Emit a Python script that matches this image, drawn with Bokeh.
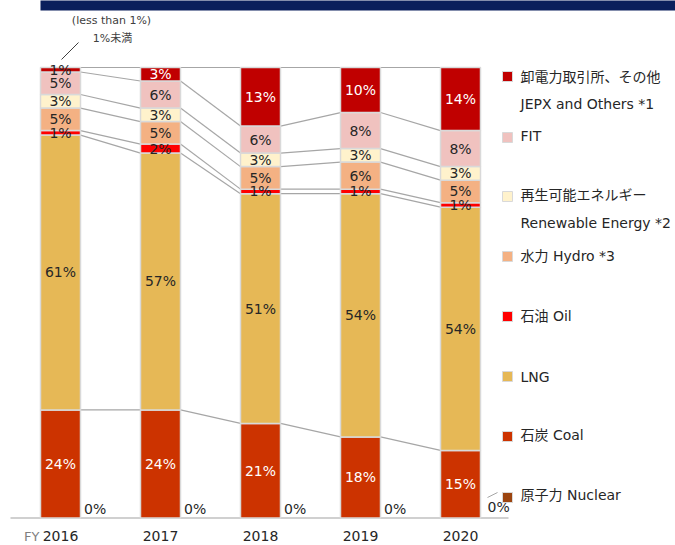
from bokeh.plotting import figure
from bokeh.embed import file_html
from bokeh.resources import INLINE
from bokeh.core.properties import value

# ---- data ----
years = ["2016", "2017", "2018", "2019", "2020"]
nuclear = [0, 0, 0, 0, 0]
coal = [24, 24, 21, 18, 15]
lng = [61, 57, 51, 54, 54]
oil = [1, 2, 1, 1, 1]
hydro = [5, 5, 5, 6, 5]
renew = [3, 3, 3, 3, 3]
fit = [5, 6, 6, 8, 8]
jepx = [1, 3, 13, 10, 14]

series = [coal, lng, oil, hydro, renew, fit, jepx]
colors = ["#CC3300", "#E6B856", "#FF0000", "#F4B183", "#FFF2CC", "#F0C2BF", "#C00000"]
white_label = [True, False, False, False, False, False, True]

legend_colors = ["#C00000", "#F0C2BF", "#FFF2CC", "#F4B183", "#FF0000", "#E6B856", "#CC3300", "#9C4510"]
legend_lines = [["卸電力取引所、その他", "JEPX and Others *1"], ["FIT"],
                ["再生可能エネルギー", "Renewable Energy *2"], ["水力 Hydro *3"],
                ["石油 Oil"], ["LNG"], ["石炭 Coal"], ["原子力 Nuclear"]]

W, H = 675, 545
X0 = -0.6
X1 = X0 + W / 100.0
PXY = 4.505
BASE = 517.5
Y1 = BASE / PXY
Y0 = -(H - BASE) / PXY

def X(sx):
    return X0 + sx / 100.0

def Y(sy):
    return Y1 - sy / PXY

FONT = value("DejaVu Sans, Noto Sans CJK JP")

p = figure(width=W, height=H, x_range=(X0, X1), y_range=(Y0, Y1),
           output_backend="svg", toolbar_location=None, min_border=0)
p.axis.visible = False
p.grid.visible = False
p.outline_line_color = None
p.background_fill_color = "white"

# top band
p.quad(left=[X(40)], right=[X(700)], bottom=[Y(10)], top=[Y(-2)], fill_color="#0A1F5C", line_color=None)

n = len(years)
xs = list(range(n))
bw = 0.4

# cumulative boundaries
cums = []
for i in range(n):
    c = [nuclear[i]]
    for s in series:
        c.append(c[-1] + s[i])
    cums.append(c)

# connector lines
x0s, y0s, x1s, y1s = [], [], [], []
for i in range(n - 1):
    for k in range(1, len(series) + 1):
        x0s.append(i + bw / 2); y0s.append(cums[i][k])
        x1s.append(i + 1 - bw / 2); y1s.append(cums[i + 1][k])
p.segment(x0=x0s, y0=y0s, x1=x1s, y1=y1s, line_color="#A6A6A6", line_width=1.2)

# baseline
p.segment(x0=[X(10)], y0=[0], x1=[X(508)], y1=[0], line_color="#D0D0D0", line_width=2)

# bars
for k, s in enumerate(series):
    bottoms = [cums[i][k] for i in range(n)]
    tops = [cums[i][k + 1] for i in range(n)]
    p.vbar(x=xs, width=bw, bottom=bottoms, top=tops, fill_color=colors[k],
           line_color="#D9D9D9", line_width=1.5)

# labels
for k, s in enumerate(series):
    lx, ly, lt, lc = [], [], [], []
    for i in range(n):
        if s[i] <= 0:
            continue
        lx.append(i)
        ly.append((cums[i][k] + cums[i][k + 1]) / 2)
        lt.append(f"{s[i]}%")
        lc.append("white" if (white_label[k] and s[i] >= 3) else "#262626")
    p.text(x=lx, y=ly, text=lt, text_color=lc, text_font=FONT, text_font_size="14px",
           text_align="center", text_baseline="middle")

# nuclear 0% labels
nx = [i + 0.235 for i in range(n - 1)] + [n - 1 + 0.27]
ny = [2.0] * (n - 1) + [2.4]
p.text(x=nx, y=ny, text=[f"{v}%" for v in nuclear], text_color="#262626", text_font=FONT,
       text_font_size="14px", text_align="left", text_baseline="middle")
p.segment(x0=[X(487)], y0=[Y(497)], x1=[X(497)], y1=[Y(492)], line_color="#A6A6A6", line_width=1)

# year labels
p.text(x=xs, y=[Y(535)] * n, text=years, text_color="#262626", text_font=FONT,
       text_font_size="14px", text_align="center", text_baseline="middle")
p.text(x=[X(39)], y=[Y(535.5)], text=["FY"], text_color="#7F7F7F", text_font=FONT,
       text_font_size="13px", text_align="right", text_baseline="middle")

# annotation
p.text(x=[X(111)], y=[Y(20)], text=["(less than 1%)"], text_color="#404040", text_font=FONT,
       text_font_size="11px", text_align="center", text_baseline="middle")
p.text(x=[X(112)], y=[Y(38)], text=["1%未満"], text_color="#404040", text_font=FONT,
       text_font_size="11px", text_align="center", text_baseline="middle")
p.segment(x0=[X(78)], y0=[Y(42)], x1=[X(61)], y1=[Y(59)], line_color="#404040", line_width=1)

# legend
sq_y = [76, 137, 196, 256, 316, 376, 436, 497]
text_ys = [[76, 103], [135], [194, 222], [255], [315], [376], [434], [494]]
for c, sy, lines, tys in zip(legend_colors, sq_y, legend_lines, text_ys):
    p.rect(x=[X(507)], y=[Y(sy)], width=10, height=10, width_units="screen", height_units="screen",
           fill_color=c, line_color="#D9D9D9", line_width=1)
    p.text(x=[X(520)] * len(lines), y=[Y(t) for t in tys], text=lines, text_color="#262626",
           text_font=FONT, text_font_size="14px", text_align="left", text_baseline="middle")

open("out.html", "w").write(file_html(p, INLINE))
